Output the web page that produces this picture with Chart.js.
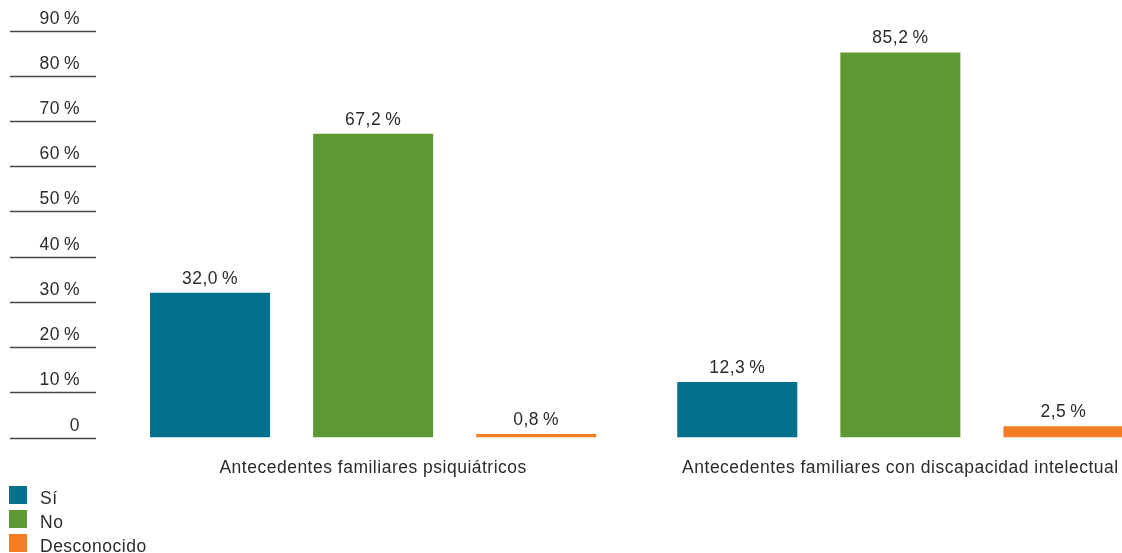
<!DOCTYPE html>
<html lang="es">
<head>
<meta charset="utf-8">
<title>Antecedentes familiares</title>
<script src="https://cdn.jsdelivr.net/npm/chart.js@4/dist/chart.umd.min.js"></script>
<style>
  html, body { margin: 0; padding: 0; background: #fff; overflow: hidden; }
  #wrap { position: absolute; left: 0; top: 0; width: 1164px; height: 553px; }
</style>
</head>
<body>
<div id="wrap"><canvas id="chart"></canvas></div>
<script>
// Categories and series
const categories = [
  'Antecedentes familiares psiquiátricos',
  'Antecedentes familiares con discapacidad intelectual'
];
const seriesNames = ['Sí', 'No', 'Desconocido'];
const siValues = [32.0, 12.3];
const noValues = [67.2, 85.2];
const desconocidoValues = [0.8, 2.5];
const seriesColors = ['#03708e', '#5e9833', '#f47d24'];

// Value axis ticks
const yTickValues = [0, 10, 20, 30, 40, 50, 60, 70, 80, 90];
const yTickLabels = ['0', '10\u2009%', '20\u2009%', '30\u2009%', '40\u2009%', '50\u2009%', '60\u2009%', '70\u2009%', '80\u2009%', '90\u2009%'];

const FONT = '"Liberation Sans", Arial, Helvetica, sans-serif';
const TEXT = '#2b2b2b';

function fmt(v) {
  return v.toFixed(1).replace('.', ',') + '\u2009%';
}

function setText(ctx, align) {
  ctx.fillStyle = TEXT;
  ctx.font = '17.5px ' + FONT;
  ctx.letterSpacing = '0.5px';
  ctx.textAlign = align;
  ctx.textBaseline = 'alphabetic';
}

// Short rules with labels above them on the left, from the y scale
const leftTicks = {
  id: 'leftTicks',
  afterDraw(chart) {
    const ctx = chart.ctx;
    const y = chart.scales.y;
    ctx.save();
    ctx.strokeStyle = '#474747';
    ctx.lineWidth = 1.3;
    setText(ctx, 'right');
    yTickValues.forEach((v, i) => {
      const py = Math.round(y.getPixelForValue(v)) + 0.5;
      ctx.beginPath();
      ctx.moveTo(10, py);
      ctx.lineTo(96, py);
      ctx.stroke();
      ctx.fillText(yTickLabels[i], 80, py - 8);
    });
    ctx.restore();
  }
};

// Category names under each group, from the x scale
const categoryNames = {
  id: 'categoryNames',
  afterDraw(chart) {
    const ctx = chart.ctx;
    const x = chart.scales.x;
    ctx.save();
    setText(ctx, 'center');
    chart.data.labels.forEach((lab, i) => {
      ctx.fillText(lab, x.getPixelForValue(i), 473);
    });
    ctx.restore();
  }
};

// Value labels above each bar
const barValues = {
  id: 'barValues',
  afterDatasetsDraw(chart) {
    const ctx = chart.ctx;
    ctx.save();
    setText(ctx, 'center');
    chart.data.datasets.forEach((ds, di) => {
      chart.getDatasetMeta(di).data.forEach((bar, j) => {
        ctx.fillText(fmt(ds.data[j]), bar.x, bar.y - 9);
      });
    });
    ctx.restore();
  }
};

// Vertical legend at bottom left
const stackedLegend = {
  id: 'stackedLegend',
  afterDraw(chart) {
    const ctx = chart.ctx;
    ctx.save();
    setText(ctx, 'left');
    chart.data.datasets.forEach((ds, i) => {
      const top = 486 + i * 24;
      ctx.fillStyle = ds.backgroundColor;
      ctx.fillRect(9, top, 18, 18);
      ctx.fillStyle = TEXT;
      ctx.fillText(ds.label, 40, top + 17.5);
    });
    ctx.restore();
  }
};

const valueSets = [siValues, noValues, desconocidoValues];

new Chart(document.getElementById('chart'), {
  type: 'bar',
  data: {
    labels: categories,
    datasets: seriesNames.map((name, i) => ({
      label: name,
      data: valueSets[i],
      backgroundColor: seriesColors[i],
      borderWidth: 0,
      barPercentage: 0.736,
      categoryPercentage: 0.928
    }))
  },
  options: {
    responsive: true,
    maintainAspectRatio: false,
    animation: false,
    layout: { padding: { left: 109.5, right: 0, top: 30.7, bottom: 115.5 } },
    plugins: { legend: { display: false }, tooltip: { enabled: false } },
    scales: {
      x: { display: false },
      y: { display: false, min: 0, max: 90 }
    }
  },
  plugins: [leftTicks, barValues, categoryNames, stackedLegend]
});
</script>
</body>
</html>
